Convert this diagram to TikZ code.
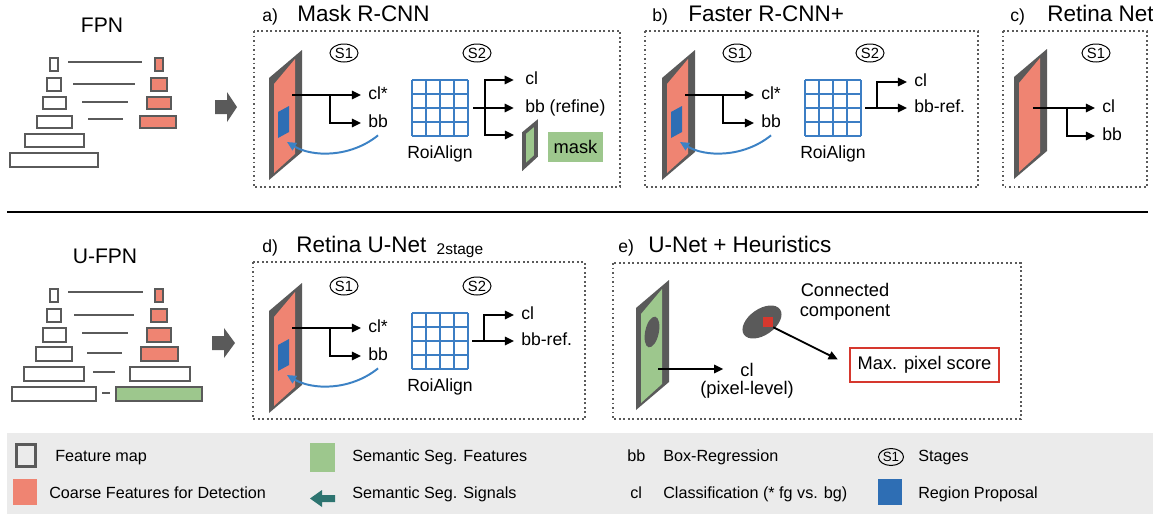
\documentclass[tikz,border=0pt]{standalone}
\usepackage{fontspec}
\setmainfont{Liberation Sans}
\usetikzlibrary{arrows.meta,shapes.geometric}

\definecolor{fmgray}{RGB}{90,90,90}
\definecolor{coarse}{RGB}{239,132,114}
\definecolor{segfeat}{RGB}{157,199,141}
\definecolor{propblue}{RGB}{46,110,180}
\definecolor{roiblue}{RGB}{60,126,196}
\definecolor{sigblue}{RGB}{60,130,197}
\definecolor{sigteal}{RGB}{45,116,112}
\definecolor{legendbg}{RGB}{235,235,235}
\definecolor{maxred}{RGB}{214,56,46}

\begin{document}
\begin{tikzpicture}[
    x=0.025cm, y=-0.025cm,
    >={Triangle[length=6.5pt,width=6pt]},
    arrow/.style={->, line width=1.3pt, shorten >=5pt},
    signal/.style={->, line width=1.4pt, draw=sigblue},
    panel/.style={draw=fmgray, dotted, line width=1.2pt},
    pyr/.style={draw=fmgray, line width=1.6pt},
    roi/.style={draw=roiblue, line width=1.1pt},
    title/.style={anchor=base west, inner sep=0pt, font=\fontsize{16}{19}\selectfont},
    tag/.style={anchor=base west, inner sep=0pt, font=\fontsize{12.5}{15}\selectfont},
    lbl/.style={anchor=west, inner sep=0pt, text height=1.6ex, text depth=.3ex, font=\fontsize{12.5}{15}\selectfont},
    note/.style={inner sep=0pt, align=center, font=\fontsize{13}{14.5}\selectfont},
    stage/.style={draw, ellipse, line width=0.7pt, inner sep=0pt, minimum width=0.7cm, minimum height=0.45cm, font=\fontsize{10.5}{12}\selectfont},
    legend/.style={anchor=west, inner sep=0pt, text height=1.6ex, text depth=.3ex, font=\fontsize{11.5}{14}\selectfont},
    pics/fmap/.style={code={
      \fill[fmgray] (0,0) -- (33,-28) -- (33,74) -- (0,102) -- cycle;
      \fill[#1] (5,6) -- (26,-19) -- (26,76) -- (5,95) -- cycle;
    }}
  ]
  \useasboundingbox (0,0) rectangle (1153,515);

  % FPN pyramid
  \node[title, anchor=base, font=\fontsize{15}{18}\selectfont] (fpn) at (102,32) {FPN};
  \foreach \xa/\ya/\xb/\yb in {49/57/59/72, 46/77/62/92, 42/96/67/110, 36/115/73/129, 24/133/85/148, 9/152/99/168}
    \draw[pyr] (\xa+1,\ya+1) rectangle (\xb-1,\yb-1);
  \foreach \xa/\xb/\y in {68/142/62, 73/135/84, 82/128/102, 88/123/119}
    \draw[pyr] (\xa,\y) -- (\xb,\y);
  \foreach \xa/\ya/\xb/\yb in {154/57/164/72, 150/77/168/92, 146/96/172/110, 139/115/177/129}
    \draw[pyr, fill=coarse] (\xa+1,\ya+1) rectangle (\xb-1,\yb-1);
  \fill[fmgray] (215,100) -- (227,100) -- (227,92) -- (237,107) -- (227,122) -- (227,114) -- (215,114) -- cycle;

  % panel frames and titles
  \draw[panel] (254,31) rectangle (620,187);
  \node[tag] (ta) at (262,21) {a)};
  \node[title] (tta) at (297,21) {Mask R-CNN};
  \draw[panel] (645,31) rectangle (978,187);
  \node[tag] (tb) at (652,21) {b)};
  \node[title] (ttb) at (688,21) {Faster R-CNN+};
  \draw[panel] (1003,31) rectangle (1147,187);
  \node[tag] (tc) at (1010,21) {c)};
  \node[title] (ttc) at (1047,21) {Retina Net};
  \draw[panel] (253,262) rectangle (585,419);
  \node[tag] (td) at (262,252) {d)};
  \node[title] (ttd) at (296,252) {Retina U-Net};
  \node[anchor=base west, inner sep=0pt, font=\fontsize{11}{13}\selectfont] (ttds) at ([xshift=7pt, yshift=-1.5pt]ttd.base east) {2stage};
  \draw[panel] (613,263) rectangle (1021,419);
  \node[tag] (te) at (618,252) {e)};
  \node[title] (tte) at (648,252) {U-Net + Heuristics};

  % two-stage heads (a, b, d)
  \foreach \p/\dx/\dy in {a/0/0, b/393/0, d/0/233}{
    \begin{scope}[shift={(\dx,\dy)}]
      \pic at (269,78) {fmap=coarse};
      \fill[propblue] (278,112) -- (289,106) -- (289,132) -- (278,138) -- cycle;
      \node[stage] (sa\p) at (344,53) {S1};
      \node[lbl] (cls\p) at (368,95) {cl*};
      \node[lbl] (bbs\p) at (368,123) {bb};
      \coordinate (src\p) at (292,95);
      \coordinate (br\p) at (330,95);
      \coordinate (prop\p) at (287,142);
      \draw[arrow] (src\p) -- (src\p -| cls\p.west);
      \draw[arrow] (br\p) |- (bbs\p.west);
      \draw[signal] ([shift={(0,5)}]bbs\p.south) .. controls (350,158) and (312,157) .. (prop\p);
      \node[stage] (sb\p) at (477,53) {S2};
      \foreach \i in {0,...,4}{
        \draw[roi] (412+14*\i,80) -- ++(0,56);
        \draw[roi] (412,80+14*\i) -- ++(56,0);
      }
      \node[lbl, anchor=center] (roi\p) at (440,154) {RoiAlign};
    \end{scope}
  }

  % a) outputs
  \coordinate (gouta) at (473,108);
  \coordinate (gbra) at (485,108);
  \node[lbl] (cla) at (525,80) {cl};
  \node[lbl] (bbra) at (525,108) {bb (refine)};
  \coordinate (mska) at (521,135);
  \draw[arrow, shorten >=8pt] (gouta) -- (gouta -| bbra.west);
  \draw[arrow, shorten >=8pt] (gbra) |- (cla.west);
  \draw[arrow] (gbra) |- (mska);
  \filldraw[fill=segfeat, draw=fmgray, line width=2.5pt] (524,133) -- (536,123) -- (536,156) -- (524,167) -- cycle;
  \node[fill=segfeat, minimum width=1.375cm, minimum height=0.75cm, font=\fontsize{13}{15}\selectfont] (mask) at (575.5,147) {mask};

  % b), d) outputs
  \foreach \p/\dx/\dy in {b/393/0, d/0/233}{
    \begin{scope}[shift={(\dx,\dy)}]
      \coordinate (gout\p) at (472,108);
      \coordinate (gbr\p) at (484,108);
      \node[lbl] (cl\p) at (521,82) {cl};
      \node[lbl] (bbr\p) at (521,108) {bb-ref.};
      \draw[arrow] (gout\p) -- (gout\p -| bbr\p.west);
      \draw[arrow] (gbr\p) |- (cl\p.west);
    \end{scope}
  }

  % c) Retina Net
  \pic at (1014,77) {fmap=coarse};
  \node[stage] (sac) at (1096,53) {S1};
  \coordinate (srcc) at (1033,108);
  \coordinate (brc) at (1067,108);
  \node[lbl] (clsc) at (1102,108) {cl};
  \node[lbl] (bbsc) at (1102,136) {bb};
  \draw[arrow] (srcc) -- (srcc -| clsc.west);
  \draw[arrow] (brc) |- (bbsc.west);

  % U-FPN pyramid
  \node[title, anchor=base, font=\fontsize{15}{18}\selectfont] (ufpn) at (105,263) {U-FPN};
  \foreach \xa/\ya/\xb/\yb in {49/288/59/303, 46/308/62/323, 42/327/67/343, 35/346/73/362, 23/366/85/382, 11/386/97/402, 129/366/191/382}
    \draw[pyr] (\xa+1,\ya+1) rectangle (\xb-1,\yb-1);
  \foreach \xa/\xb/\y in {68/143/292, 74/134/315, 82/128/333, 87/122/353, 93/115/372, 102/110/393}
    \draw[pyr] (\xa,\y) -- (\xb,\y);
  \foreach \xa/\ya/\xb/\yb in {154/288/164/303, 150/308/168/323, 146/327/172/343, 140/346/179/362}
    \draw[pyr, fill=coarse] (\xa+1,\ya+1) rectangle (\xb-1,\yb-1);
  \draw[pyr, fill=segfeat] (116,387) rectangle (202,401);
  \fill[fmgray] (212,336) -- (224,336) -- (224,328) -- (235,343) -- (224,358) -- (224,350) -- (212,350) -- cycle;

  % e) U-Net + heuristics
  \pic at (636,308) {fmap=segfeat};
  \node[ellipse, fill=fmgray, minimum width=0.34cm, minimum height=0.78cm, rotate=-12, inner sep=0pt] (blob) at (652,332) {};
  \coordinate (srce) at (658,369);
  \node[note] (ecl) at (747,370) {cl};
  \node[note] (epix) at (747,390) {(pixel-level)};
  \draw[arrow, shorten >=12pt] (srce) -- (srce -| ecl.west);
  \node[ellipse, fill=fmgray, minimum width=1.1cm, minimum height=0.65cm, rotate=35, inner sep=0pt] (comp) at (762,322) {};
  \node[fill=maxred, minimum size=0.25cm, inner sep=0pt] (peak) at (768,322) {};
  \node[note] (conn) at (845,302) {Connected\\component};
  \node[draw=maxred, line width=1.3pt, minimum width=3.725cm, minimum height=0.85cm, font=\fontsize{13}{15}\selectfont] (maxs) at (924.5,365) {Max. pixel score};
  \draw[arrow, shorten >=9pt] (peak.south east) -- (maxs.west);

  \draw[line width=2pt] (7,212) -- (1148,212);

  % legend
  \fill[legendbg] (7,433) rectangle (1153,514);
  \draw[fmgray, line width=2.2pt] (16.5,444.5) rectangle (35.5,466.5);
  \node[legend] (lfm) at (55,457) {Feature map};
  \fill[coarse] (13,479) rectangle (37,505);
  \node[legend] (lcf) at (49,494) {Coarse Features for Detection};
  \fill[segfeat] (310,443) rectangle (335,472);
  \node[legend] (lsf) at (352,457) {Semantic Seg. Features};
  \fill[sigteal] (310,498.5) -- (322,490) -- (322,495) -- (335,495) -- (335,502) -- (322,502) -- (322,507) -- cycle;
  \node[legend] (lss) at (352,494) {Semantic Seg. Signals};
  \node[legend] (lbb) at (627,457) {bb};
  \node[legend] (lbr) at (663,457) {Box-Regression};
  \node[legend] (lcl) at (630,494) {cl};
  \node[legend] (lcc) at (663,494) {Classification (* fg vs. bg)};
  \node[stage, minimum width=0.625cm, minimum height=0.425cm, font=\fontsize{9.5}{11}\selectfont] (ls1) at (891,457) {S1};
  \node[legend] (lst) at (918,457) {Stages};
  \fill[propblue] (878,479) rectangle (902,505);
  \node[legend] (lrp) at (918,494) {Region Proposal};
\end{tikzpicture}
\end{document}
